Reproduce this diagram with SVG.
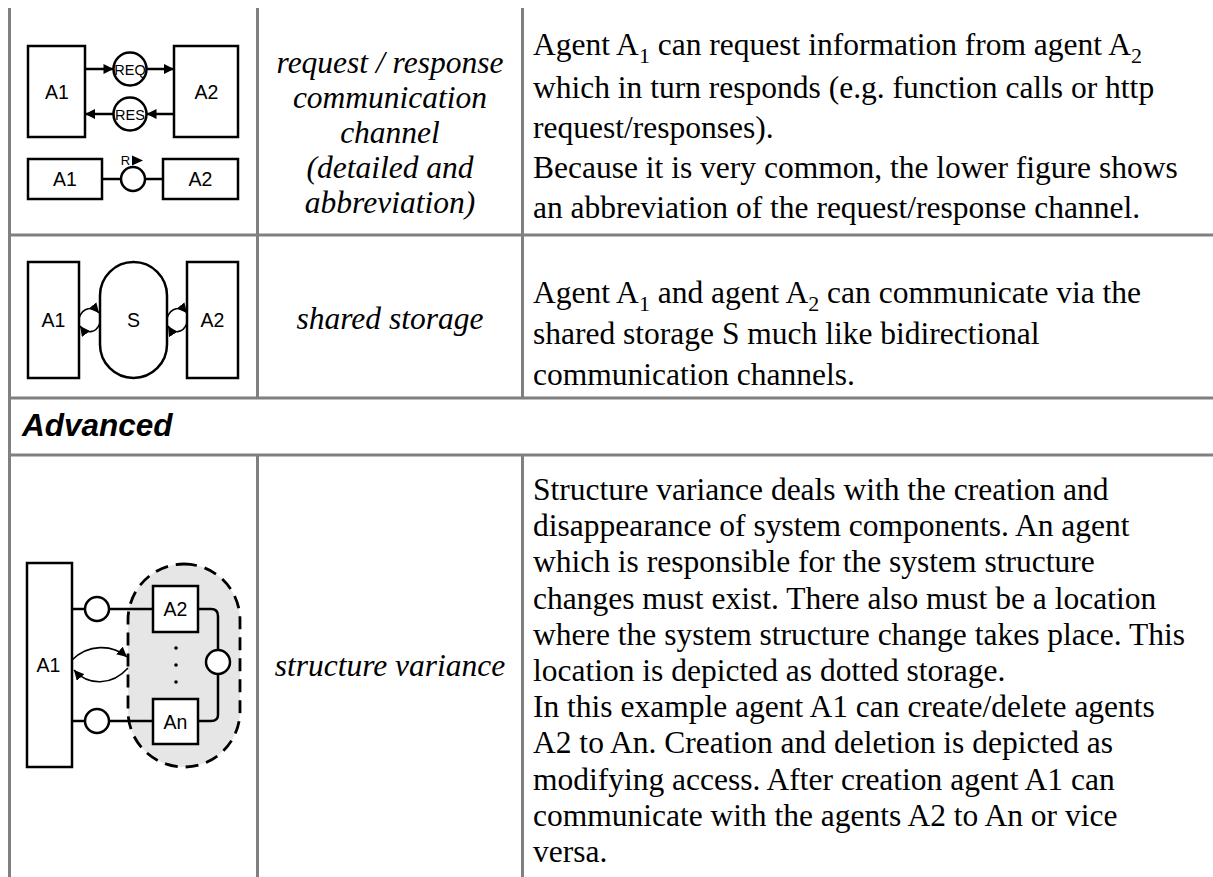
<svg xmlns="http://www.w3.org/2000/svg" width="1213" height="877" viewBox="0 0 1213 877">
  <style>
    .grid { stroke: #808080; stroke-width: 3; fill: none; }
    .box { fill: #ffffff; stroke: #000000; stroke-width: 2.5; }
    .wire { fill: none; stroke: #000000; stroke-width: 2.5; }
    .thin { fill: none; stroke: #000000; stroke-width: 1.6; }
    .lbl { font-family: "Liberation Sans", Arial, sans-serif; font-size: 19.5px; fill: #000; text-anchor: middle; }
    .small { font-family: "Liberation Sans", Arial, sans-serif; font-size: 14.5px; fill: #000; text-anchor: middle; }
    .name { font-family: "Liberation Serif", "Times New Roman", serif; font-style: italic; font-size: 31.5px; fill: #000; text-anchor: middle; }
    .desc { font-family: "Liberation Serif", "Times New Roman", serif; font-size: 31.5px; fill: #000; }
    .head { font-family: "Liberation Sans", Arial, sans-serif; font-style: italic; font-weight: bold; font-size: 31.5px; fill: #000; }
  </style>
  <defs>
    <marker id="tip" viewBox="0 0 10 10" refX="10" refY="5" markerWidth="11" markerHeight="10" markerUnits="userSpaceOnUse" orient="auto">
      <path d="M0,0 L10,5 L0,10 z" fill="#000"/>
    </marker>
    <marker id="tipS" viewBox="0 0 10 10" refX="10" refY="5" markerWidth="10" markerHeight="10" markerUnits="userSpaceOnUse" orient="auto">
      <path d="M0,0 L10,5 L0,10 z" fill="#000"/>
    </marker>
  </defs>

  <!-- table rules -->
  <g id="table">
    <line class="grid" x1="9.5" y1="8" x2="9.5" y2="877"/>
    <line class="grid" x1="257.5" y1="8" x2="257.5" y2="398"/>
    <line class="grid" x1="522.5" y1="8" x2="522.5" y2="398"/>
    <line class="grid" x1="257.5" y1="455" x2="257.5" y2="877"/>
    <line class="grid" x1="522.5" y1="455" x2="522.5" y2="877"/>
    <line class="grid" x1="8" y1="235" x2="1213" y2="235"/>
    <line class="grid" x1="8" y1="398" x2="1213" y2="398"/>
    <line class="grid" x1="8" y1="455" x2="1213" y2="455"/>
  </g>

  <!-- row 1: request / response channel -->
  <g id="rr-a1">
    <rect class="box" x="28" y="46" width="57" height="91"/>
    <text class="lbl" x="57" y="98.5">A1</text>
  </g>
  <g id="rr-a2">
    <rect class="box" x="174" y="46" width="64" height="91"/>
    <text class="lbl" x="206.5" y="98.5">A2</text>
  </g>
  <g id="rr-req">
    <circle class="box" cx="130" cy="69" r="16.5"/>
    <text class="small" x="130" y="74.5">REQ</text>
  </g>
  <g id="rr-res">
    <circle class="box" cx="130" cy="114" r="16.5"/>
    <text class="small" x="130" y="119.5">RES</text>
  </g>
  <g id="ab-a1">
    <rect class="box" x="28" y="159" width="74" height="40"/>
    <text class="lbl" x="65" y="186">A1</text>
  </g>
  <g id="ab-a2">
    <rect class="box" x="163" y="159" width="75" height="40"/>
    <text class="lbl" x="200.5" y="186">A2</text>
  </g>
  <g id="ab-ch">
    <circle class="box" cx="133" cy="179" r="12"/>
    <text class="small" x="125.5" y="165" style="font-size:13px">R</text>
    <path d="M132,155.5 L143,160.5 L132,165.5 z" fill="#000"/>
  </g>

  <!-- row 2: shared storage -->
  <g id="ss-a1">
    <rect class="box" x="28" y="262" width="51" height="116"/>
    <text class="lbl" x="53.5" y="327">A1</text>
  </g>
  <g id="ss-s">
    <rect class="box" x="100" y="262" width="67" height="116" rx="33.5" ry="33.5"/>
    <text class="lbl" x="133.5" y="327">S</text>
  </g>
  <g id="ss-a2">
    <rect class="box" x="187" y="262" width="51" height="116"/>
    <text class="lbl" x="212.5" y="327">A2</text>
  </g>

  <!-- row 3: structure variance -->
  <g id="sv-store">
    <rect x="128" y="564" width="112" height="203" rx="56" ry="56" fill="#e6e6e6" stroke="#000" stroke-width="2.8" stroke-dasharray="13 8"/>
  </g>
  <g id="sv-a1">
    <rect class="box" x="27" y="563" width="45" height="204"/>
    <text class="lbl" x="48.5" y="672">A1</text>
  </g>
  <g id="sv-a2">
    <rect class="box" x="153" y="586" width="45" height="46"/>
    <text class="lbl" x="175.5" y="616">A2</text>
  </g>
  <g id="sv-an">
    <rect class="box" x="153" y="699" width="45" height="45"/>
    <text class="lbl" x="175.5" y="728.5">An</text>
  </g>
  <g id="sv-dots" fill="#000">
    <circle cx="176" cy="648" r="1.8"/>
    <circle cx="176" cy="665" r="1.8"/>
    <circle cx="176" cy="682" r="1.8"/>
  </g>

  <!-- connectors -->
  <g id="connectors">
    <line class="wire" x1="85" y1="69" x2="113.5" y2="69" marker-end="url(#tip)"/>
    <line class="wire" x1="146.5" y1="69" x2="174" y2="69" marker-end="url(#tip)"/>
    <line class="wire" x1="174" y1="114" x2="146.5" y2="114" marker-end="url(#tip)"/>
    <line class="wire" x1="113.5" y1="114" x2="85" y2="114" marker-end="url(#tip)"/>
    <line class="wire" x1="102" y1="179" x2="121" y2="179"/>
    <line class="wire" x1="145" y1="179" x2="163" y2="179"/>

    <path class="thin" d="M79,318 C83,307 93,306 99,313" marker-end="url(#tipS)"/>
    <path class="thin" d="M100,323 C96,334 86,334 80,326" marker-end="url(#tipS)"/>
    <path class="thin" d="M167,318 C171,307 181,306 187,313" marker-end="url(#tipS)"/>
    <path class="thin" d="M187,323 C183,334 173,334 168,326" marker-end="url(#tipS)"/>

    <line class="wire" x1="72" y1="609" x2="85" y2="609"/>
    <circle class="box" cx="97" cy="609" r="12"/>
    <line class="wire" x1="109" y1="609" x2="153" y2="609"/>
    <line class="wire" x1="72" y1="721" x2="85" y2="721"/>
    <circle class="box" cx="97" cy="721" r="12"/>
    <line class="wire" x1="109" y1="721" x2="153" y2="721"/>
    <path class="wire" d="M198,609 L211,609 Q218,609 218,616 L218,650"/>
    <circle class="box" cx="218" cy="662" r="12"/>
    <path class="wire" d="M218,674 L218,715 Q218,721 211,721 L198,721"/>
    <path class="thin" d="M72,660 C88,644 112,644 127,657" marker-end="url(#tipS)"/>
    <path class="thin" d="M128,668 C112,686 88,686 74,670" marker-end="url(#tipS)"/>
  </g>

  <!-- labels, middle column -->
  <g id="names">
    <text class="name" x="390" y="73">request / response</text>
    <text class="name" x="390" y="108">communication</text>
    <text class="name" x="390" y="143">channel</text>
    <text class="name" x="390" y="178">(detailed and</text>
    <text class="name" x="390" y="213">abbreviation)</text>
    <text class="name" x="390" y="329">shared storage</text>
    <text class="name" x="390" y="676">structure variance</text>
  </g>

  <!-- descriptions -->
  <g id="descriptions">
    <text class="desc" x="533" y="55">Agent A<tspan dy="8" font-size="22">1</tspan><tspan dy="-8"> can request information from agent A</tspan><tspan dy="8" font-size="22">2</tspan></text>
    <text class="desc" x="533" y="98">which in turn responds (e.g. function calls or http</text>
    <text class="desc" x="533" y="138">request/responses).</text>
    <text class="desc" x="533" y="178">Because it is very common, the lower figure shows</text>
    <text class="desc" x="533" y="218">an abbreviation of the request/response channel.</text>

    <text class="desc" x="533" y="303">Agent A<tspan dy="8" font-size="22">1</tspan><tspan dy="-8"> and agent A</tspan><tspan dy="8" font-size="22">2</tspan><tspan dy="-8"> can communicate via the</tspan></text>
    <text class="desc" x="533" y="344">shared storage S much like bidirectional</text>
    <text class="desc" x="533" y="385">communication channels.</text>

    <text class="head" x="22" y="436">Advanced</text>

    <text class="desc" x="533" y="500">Structure variance deals with the creation and</text>
    <text class="desc" x="533" y="536.2">disappearance of system components. An agent</text>
    <text class="desc" x="533" y="572.4">which is responsible for the system structure</text>
    <text class="desc" x="533" y="608.6">changes must exist. There also must be a location</text>
    <text class="desc" x="533" y="644.8">where the system structure change takes place. This</text>
    <text class="desc" x="533" y="681">location is depicted as dotted storage.</text>
    <text class="desc" x="533" y="717.2">In this example agent A1 can create/delete agents</text>
    <text class="desc" x="533" y="753.4">A2 to An. Creation and deletion is depicted as</text>
    <text class="desc" x="533" y="789.6">modifying access. After creation agent A1 can</text>
    <text class="desc" x="533" y="825.8">communicate with the agents A2 to An or vice</text>
    <text class="desc" x="533" y="862">versa.</text>
  </g>
</svg>
